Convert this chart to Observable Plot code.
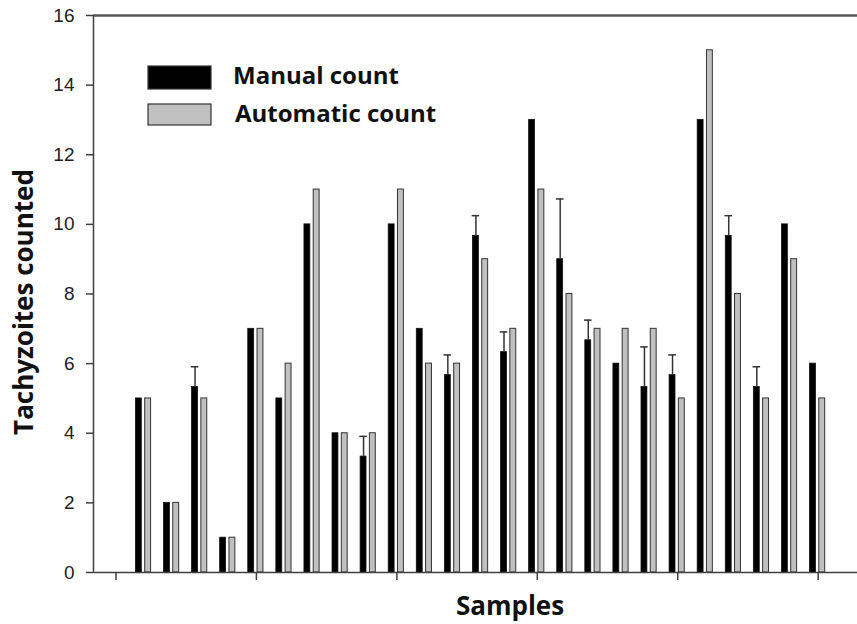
<!DOCTYPE html>
<html><head><meta charset="utf-8">
<script src="https://cdn.jsdelivr.net/npm/d3@7"></script>
<script src="https://cdn.jsdelivr.net/npm/@observablehq/plot@0.6"></script>
<style>body{margin:0;background:#fff} #chart{position:relative;width:857px;height:624px}</style>
</head><body><div id="chart"></div>
<script>
const samples = [1,2,3,4,5,6,7,8,9,10,11,12,13,14,15,16,17,18,19,20,21,22,23,24,25];
const manualCount = [5,2,5.33,1,7,5,10,4,3.33,10,7,5.67,9.67,6.33,13,9,6.67,6,5.33,5.67,13,9.67,5.33,10,6];
const automaticCount = [5,2,5,1,7,6,11,4,4,11,6,6,9,7,11,8,7,7,7,5,15,8,5,9,5];
const manualError = [0,0,0.58,0,0,0,0,0,0.58,0,0,0.58,0.58,0.58,0,1.73,0.58,0,1.15,0.58,0,0.58,0.58,0,0];
const yTicks = [0,2,4,6,8,10,12,14,16];
const xTicks = [0,5,10,15,20,25];
const seriesNames = ["Manual count","Automatic count"];
const seriesColors = ["#000000","#c0c0c0"];
const xTitle = "Samples";
const yTitle = "Tachyzoites counted";

const rows = samples.map((s,k)=>({sample:s, manual:manualCount[k], automatic:automaticCount[k], err:manualError[k]}));
const errRows = rows.filter(d=>d.err>0);
const xMin = -0.8, xMax = 26.4;
const axisColor = "#404040";

const plot = Plot.plot({
  width:857, height:624, marginLeft:93, marginRight:0, marginTop:15, marginBottom:52,
  style:{background:"white", fontFamily:"'Liberation Sans', Arial, sans-serif", fontSize:"19px", color:"#222"},
  x:{type:"linear", domain:[xMin,xMax]},
  y:{domain:[0,16]},
  marks:[
    Plot.rectY(rows, {x1:d=>d.sample-0.29, x2:d=>d.sample-0.08, y1:0, y2:"manual", fill:seriesColors[0], stroke:"#111", strokeWidth:0.8}),
    Plot.rectY(rows, {x1:d=>d.sample+0.04, x2:d=>d.sample+0.25, y1:0, y2:"automatic", fill:seriesColors[1], stroke:"#333", strokeWidth:1}),
    Plot.ruleX(errRows, {x:d=>d.sample-0.185, y1:"manual", y2:d=>d.manual+d.err, stroke:"#333", strokeWidth:1.5}),
    Plot.ruleY(errRows, {y:d=>d.manual+d.err, x1:d=>d.sample-0.32, x2:d=>d.sample-0.05, stroke:"#333", strokeWidth:1.5}),
    Plot.ruleY([0], {stroke:axisColor, strokeWidth:1.5}),
    Plot.ruleY([16], {stroke:"#555", strokeWidth:2.5}),
    Plot.ruleX([xMin], {stroke:axisColor, strokeWidth:1.5}),
    Plot.axisY({ticks:yTicks, tickSize:7, tickPadding:12, stroke:axisColor, strokeWidth:1.5, fill:"#222", label:null}),
    Plot.axisX({ticks:xTicks, tickSize:8, tickFormat:()=>"", stroke:axisColor, strokeWidth:1.5, label:null})
  ]
});
document.getElementById("chart").appendChild(plot);

const svg = d3.select(plot);
const titleFont = "'Open Sans', 'DejaVu Sans', sans-serif";
svg.append("text").attr("transform","translate(33,302) rotate(-90)")
  .attr("text-anchor","middle").attr("font-family",titleFont).attr("font-weight","bold")
  .attr("font-size","26px").attr("fill","#111").text(yTitle);
svg.append("text").attr("x",510).attr("y",615)
  .attr("text-anchor","middle").attr("font-family",titleFont).attr("font-weight","bold")
  .attr("font-size","26px").attr("fill","#111").text(xTitle);

const legend = svg.append("g");
const legendRows = [{y:66,h:23,tx:233,ty:84},{y:104,h:21,tx:235,ty:122}];
seriesNames.forEach((name,k)=>{
  const r = legendRows[k];
  legend.append("rect").attr("x",148).attr("y",r.y).attr("width",63).attr("height",r.h)
    .attr("fill",seriesColors[k]).attr("stroke","#333").attr("stroke-width",1.2);
  legend.append("text").attr("x",r.tx).attr("y",r.ty).attr("text-anchor","start").attr("font-family",titleFont)
    .attr("font-weight","bold").attr("font-size","24px").attr("fill","#111").text(name);
});
</script>
</body></html>
